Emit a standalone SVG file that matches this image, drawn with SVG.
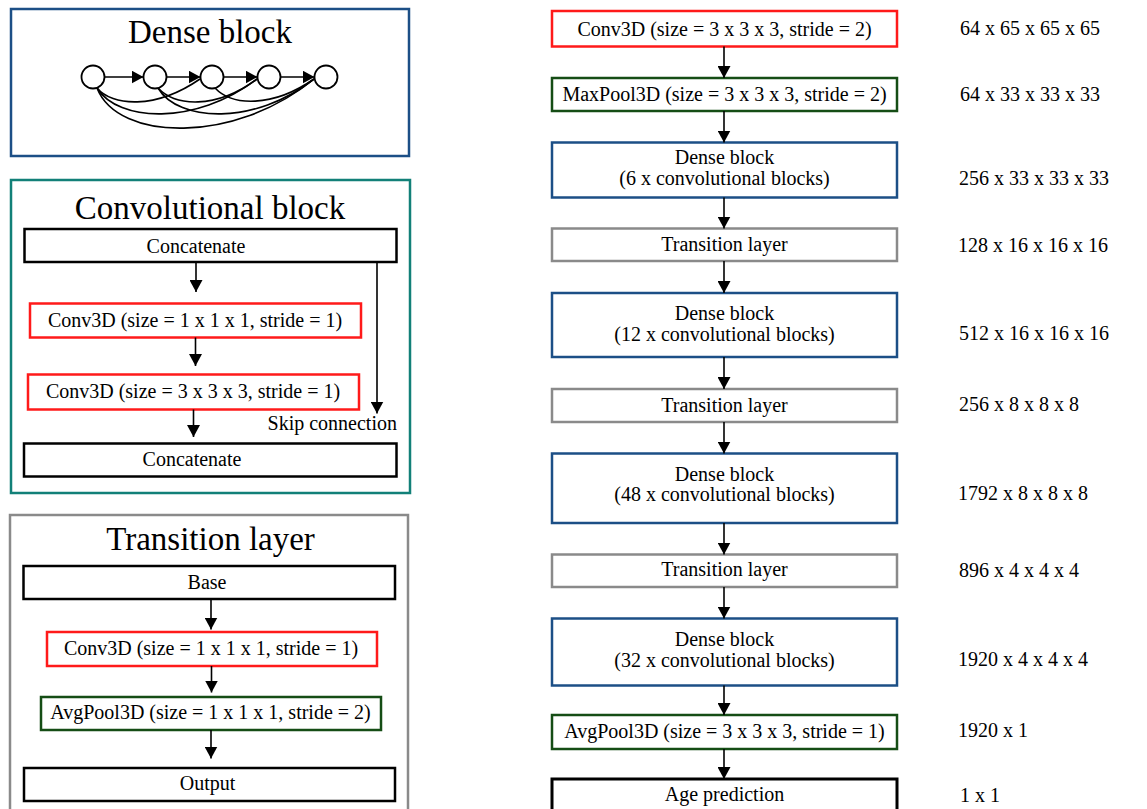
<svg xmlns="http://www.w3.org/2000/svg" width="1147" height="809" viewBox="0 0 1147 809">
<defs>
<marker id="ah" markerWidth="13" markerHeight="13" refX="12" refY="6.5" orient="auto" markerUnits="userSpaceOnUse" viewBox="0 0 13 13">
<path d="M0,0 L12,6.5 L0,13 z" fill="#000"/>
</marker>
</defs>
<style>
text{font-family:"Liberation Serif","Times New Roman",serif;fill:#000;}
.t{font-size:20px;text-anchor:middle;}
.l{font-size:20px;}
.h{font-size:33px;text-anchor:middle;}
rect{fill:#fff;stroke-width:2.5;}
.red{stroke:#ff1a1a;}
.grn{stroke:#154d15;}
.blu{stroke:#1c4f86;}
.gry{stroke:#8a8a8a;}
.blk{stroke:#000;}
.teal{stroke:#128078;}
.c line,.c path{stroke:#000;stroke-width:1.6;fill:none;}
.a{marker-end:url(#ah);}
circle{fill:#fff;stroke:#000;stroke-width:1.8;}
</style>

<!-- Left panels -->
<g id="panel-dense">
<rect x="11" y="9" width="398" height="147" class="blu"/>
<text x="210" y="43" class="h">Dense block</text>
</g>
<g id="dense-graph" class="c">
<path d="M97,88 C112,106 155,110 200,79"/>
<path d="M97,88 C118,122 195,126 257,79"/>
<path d="M97,88 C118,142 235,144 314,79"/>
<path d="M158,88 C175,106 215,110 257,79"/>
<path d="M158,88 C178,122 255,126 314,79"/>
<path d="M215,88 C232,106 272,108 314,79"/>
<line x1="104.5" y1="77" x2="143.5" y2="77" class="a"/>
<line x1="166.5" y1="77" x2="200.5" y2="77" class="a"/>
<line x1="223.5" y1="77" x2="257.5" y2="77" class="a"/>
<line x1="280.5" y1="77" x2="314.5" y2="77" class="a"/>
</g>
<g id="dense-nodes">
<circle cx="93" cy="77" r="11.5"/>
<circle cx="155" cy="77" r="11.5"/>
<circle cx="212" cy="77" r="11.5"/>
<circle cx="269" cy="77" r="11.5"/>
<circle cx="326" cy="77" r="11.5"/>
</g>

<g id="panel-conv">
<rect x="11" y="180" width="399" height="313" class="teal"/>
<text x="210" y="219" class="h">Convolutional block</text>
</g>
<g id="cb-concat1"><rect x="24.5" y="229" width="372" height="33" class="blk"/><text x="196" y="253" class="t">Concatenate</text></g>
<g id="cb-conv1"><rect x="30" y="303.5" width="331" height="34" class="red"/><text x="195" y="327" class="t">Conv3D (size = 1 x 1 x 1, stride = 1)</text></g>
<g id="cb-conv2"><rect x="28" y="374.5" width="331" height="35" class="red"/><text x="193" y="398" class="t">Conv3D (size = 3 x 3 x 3, stride = 1)</text></g>
<g id="cb-concat2"><rect x="24" y="443.5" width="372.5" height="33" class="blk"/><text x="192" y="466" class="t">Concatenate</text></g>
<text x="397" y="430" class="l" text-anchor="end">Skip connection</text>

<g id="panel-trans">
<rect x="10" y="515" width="398" height="310" class="gry"/>
<text x="210.5" y="550" class="h">Transition layer</text>
</g>
<g id="tl-base"><rect x="23.5" y="566" width="371.5" height="33" class="blk"/><text x="207" y="589" class="t">Base</text></g>
<g id="tl-conv"><rect x="47" y="632" width="330" height="34" class="red"/><text x="211" y="654.5" class="t">Conv3D (size = 1 x 1 x 1, stride = 1)</text></g>
<g id="tl-pool"><rect x="41" y="697" width="340" height="33" class="grn"/><text x="210.5" y="718.5" class="t">AvgPool3D (size = 1 x 1 x 1, stride = 2)</text></g>
<g id="tl-out"><rect x="24" y="768" width="371" height="33" class="blk"/><text x="207.5" y="790" class="t">Output</text></g>

<!-- Right column -->
<g id="n1"><rect x="552" y="11" width="345" height="35.5" class="red"/><text x="724.5" y="36" class="t">Conv3D (size = 3 x 3 x 3, stride = 2)</text></g>
<g id="n2"><rect x="552" y="78" width="345" height="33" class="grn"/><text x="724.5" y="101" class="t">MaxPool3D (size = 3 x 3 x 3, stride = 2)</text></g>
<g id="n3"><rect x="552" y="142.5" width="345" height="55" class="blu"/><text x="724.5" y="164" class="t">Dense block</text><text x="724.5" y="184.5" class="t">(6 x convolutional blocks)</text></g>
<g id="n4"><rect x="552" y="228.5" width="345" height="32.5" class="gry"/><text x="724.5" y="251" class="t">Transition layer</text></g>
<g id="n5"><rect x="552" y="293" width="345" height="64" class="blu"/><text x="724.5" y="320" class="t">Dense block</text><text x="724.5" y="340.5" class="t">(12 x convolutional blocks)</text></g>
<g id="n6"><rect x="552" y="389" width="345" height="33" class="gry"/><text x="724.5" y="411.5" class="t">Transition layer</text></g>
<g id="n7"><rect x="552" y="453.5" width="345" height="69.5" class="blu"/><text x="724.5" y="480.5" class="t">Dense block</text><text x="724.5" y="501" class="t">(48 x convolutional blocks)</text></g>
<g id="n8"><rect x="552" y="554.5" width="345" height="32.5" class="gry"/><text x="724.5" y="576" class="t">Transition layer</text></g>
<g id="n9"><rect x="552" y="618.5" width="345" height="67" class="blu"/><text x="724.5" y="646" class="t">Dense block</text><text x="724.5" y="666.5" class="t">(32 x convolutional blocks)</text></g>
<g id="n10"><rect x="552" y="715" width="345" height="34" class="grn"/><text x="724.5" y="738" class="t">AvgPool3D (size = 3 x 3 x 3, stride = 1)</text></g>
<g id="n11"><rect x="552" y="779" width="345" height="40" class="blk" style="stroke-width:3"/><text x="724.5" y="801" class="t">Age prediction</text></g>

<g id="dims">
<text x="960" y="35" class="l">64 x 65 x 65 x 65</text>
<text x="960" y="101" class="l">64 x 33 x 33 x 33</text>
<text x="959" y="184.5" class="l">256 x 33 x 33 x 33</text>
<text x="958" y="251.5" class="l">128 x 16 x 16 x 16</text>
<text x="959" y="339.5" class="l">512 x 16 x 16 x 16</text>
<text x="959" y="410.5" class="l">256 x 8 x 8 x 8</text>
<text x="958" y="500" class="l">1792 x 8 x 8 x 8</text>
<text x="959" y="577" class="l">896 x 4 x 4 x 4</text>
<text x="958" y="666" class="l">1920 x 4 x 4 x 4</text>
<text x="958" y="736.5" class="l">1920 x 1</text>
<text x="960" y="802" class="l">1 x 1</text>
</g>

<g id="connectors" class="c">
<line x1="196" y1="262" x2="196" y2="292" class="a"/>
<line x1="195.5" y1="337.5" x2="195.5" y2="366" class="a"/>
<line x1="193.5" y1="409.5" x2="193.5" y2="437" class="a"/>
<line x1="377" y1="262" x2="377" y2="413.5" class="a"/>
<line x1="211" y1="599" x2="211" y2="629.5" class="a"/>
<line x1="211.5" y1="666" x2="211.5" y2="692.5" class="a"/>
<line x1="211" y1="730" x2="211" y2="758.5" class="a"/>
<line x1="724" y1="46.5" x2="724" y2="78" class="a"/>
<line x1="724" y1="111" x2="724" y2="142.5" class="a"/>
<line x1="724" y1="197.5" x2="724" y2="228.5" class="a"/>
<line x1="724" y1="261" x2="724" y2="293" class="a"/>
<line x1="724" y1="357" x2="724" y2="389" class="a"/>
<line x1="724" y1="422" x2="724" y2="453.5" class="a"/>
<line x1="724" y1="523" x2="724" y2="554.5" class="a"/>
<line x1="724" y1="587" x2="724" y2="618.5" class="a"/>
<line x1="724" y1="685.5" x2="724" y2="715" class="a"/>
<line x1="724" y1="749" x2="724" y2="779" class="a"/>
</g>
</svg>
